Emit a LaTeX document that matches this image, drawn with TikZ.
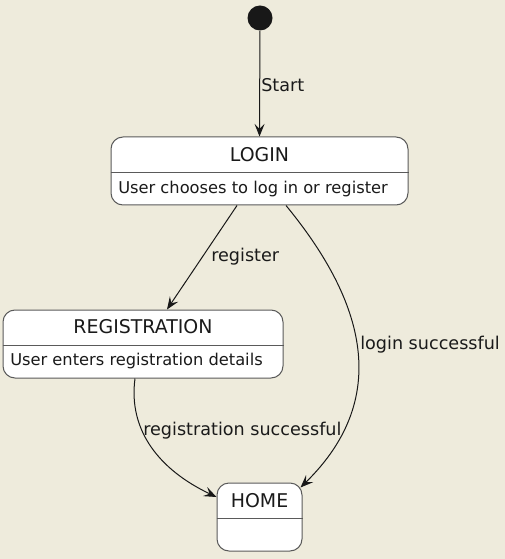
\documentclass[tikz,border=0pt]{standalone}
\usepackage{fontspec}
\setmainfont{DejaVu Sans}
\usetikzlibrary{arrows.meta,calc}
\definecolor{bg}{HTML}{EEEBDC}
\definecolor{edge}{HTML}{181818}
\definecolor{boxline}{HTML}{5A5A5A}
\definecolor{txt}{HTML}{1A1A1A}
\begin{document}
\begin{tikzpicture}[x=0.75pt,y=-0.75pt,
  statebox/.style={draw=boxline,fill=white,line width=0.75pt,rounded corners=9pt,inner sep=0pt},
  divider/.style={draw=boxline,line width=0.75pt},
  titletext/.style={text=txt,inner sep=0pt,font=\fontsize{14.2}{16}\selectfont},
  subtext/.style={text=txt,inner sep=0pt,anchor=west,font=\fontsize{12.2}{14}\selectfont},
  edgelabel/.style={text=txt,inner sep=0pt,anchor=west,font=\fontsize{13.2}{15}\selectfont},
  conn/.style={draw=edge,line width=0.75pt,-{Stealth[length=9.5pt,width=7.5pt,inset=3.8pt]}}]
\fill[bg] (0,0) rectangle (505,559);
\useasboundingbox (0,0) rectangle (505,559);
% initial state
\node[circle,fill=edge,minimum size=18.75pt,inner sep=0pt] (start) at (260,18) {};
% states
\node[statebox,minimum width=222.75pt,minimum height=51pt] (login) at (259.5,171) {};
\draw[divider] ($(login.west)+(0,2)$) -- ($(login.east)+(0,2)$);
\node[titletext] (logint) at (259.5,155) {LOGIN};
\node[subtext] (logins) at (118,189) {User chooses to log in or register};
\node[statebox,minimum width=210pt,minimum height=51pt] (reg) at (143,344) {};
\draw[divider] ($(reg.west)+(0,1)$) -- ($(reg.east)+(0,1)$);
\node[titletext] (regt) at (143,327) {REGISTRATION};
\node[subtext] (regs) at (10,361) {User enters registration details};
\node[statebox,minimum width=63.75pt,minimum height=51pt] (home) at (259.5,517) {};
\draw[divider] ($(home.west)+(0,1)$) -- ($(home.east)+(0,1)$);
\node[titletext] (homet) at (259.5,501) {HOME};
% connectors
\draw[conn] (start) -- (login.north);
\node[edgelabel] (lstart) at (261,85) {Start};
\draw[conn] ($(login.south)+(-22.5,0)$) -- ($(reg.north)+(24,0)$);
\node[edgelabel] (lreg) at (211,257) {register};
\draw[conn] ($(login.south)+(26.5,0)$) .. controls ($(login.south)+(100.5,90)$) and ($(home.north east)+(93,-88)$) .. ($(home.north east)+(-2,5)$);
\node[edgelabel] (llogin) at (360,345) {login successful};
\draw[conn] ($(reg.south)+(-8,0)$) .. controls ($(reg.south)+(-15,52)$) and ($(home.west)+(-57,-47)$) .. ($(home.west)+(0,-20)$);
\node[edgelabel] (lregs) at (143,431) {registration successful};
\end{tikzpicture}
\end{document}
